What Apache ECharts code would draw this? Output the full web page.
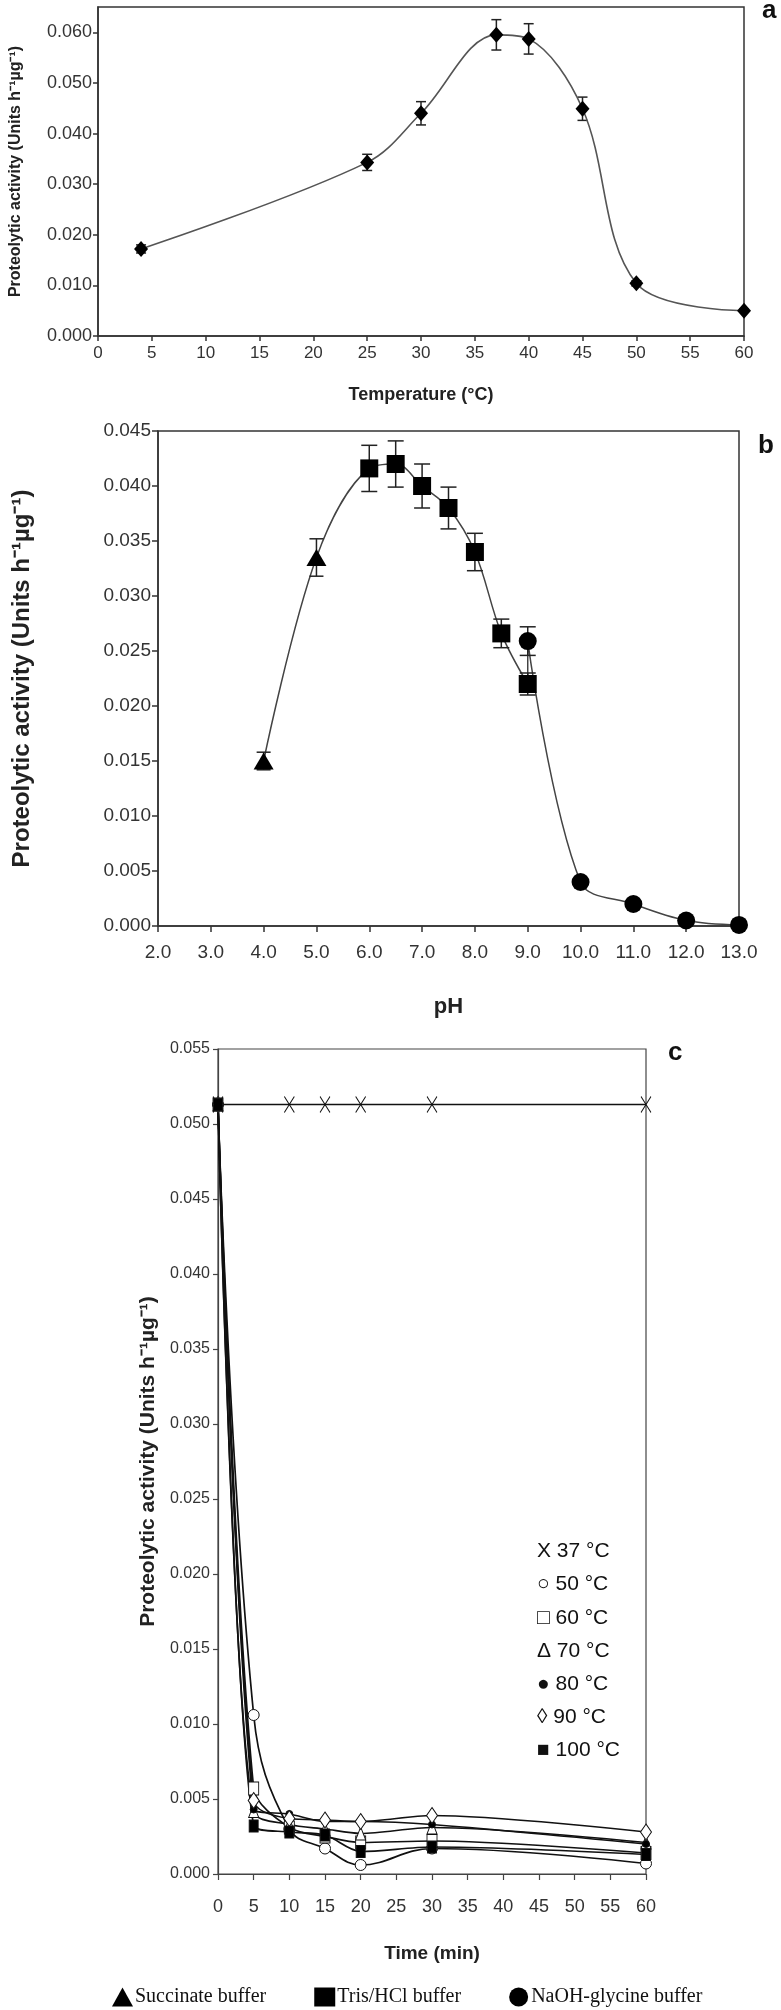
<!DOCTYPE html>
<html>
<head>
<meta charset="utf-8">
<script src="https://cdn.jsdelivr.net/npm/echarts@6/dist/echarts.min.js"></script>
<style>
html,body{margin:0;padding:0;background:#fff;}
#chart{width:781px;height:2010px;}
</style>
</head>
<body>
<div id="chart"></div>
<script>
// ---------- Panel a: temperature ----------
const tempX   = [4, 25, 30, 37, 40, 45, 50, 60];
const tempY   = [0.0172, 0.0343, 0.0440, 0.0595, 0.0587, 0.0449, 0.0104, 0.0050];
const tempErr = [0.0008, 0.0016, 0.0023, 0.0030, 0.0030, 0.0023, 0.0005, 0.0003];

// ---------- Panel b: pH ----------
const succX = [4, 5];
const succY = [0.0150, 0.0335];
const succErr = [0.0008, 0.0017];
const trisX = [6, 6.5, 7, 7.5, 8, 8.5, 9];
const trisY = [0.0416, 0.0420, 0.0400, 0.0380, 0.0340, 0.0266, 0.0220];
const trisErr = [0.0021, 0.0021, 0.0020, 0.0019, 0.0017, 0.0013, 0.0010];
const glyX = [9, 10, 11, 12, 13];
const glyY = [0.0259, 0.0040, 0.0020, 0.0005, 0.0001];
const glyErr = [0.0013, 0, 0, 0, 0];
const bufferNames = ['Succinate buffer', 'Tris/HCl buffer', 'NaOH-glycine buffer'];

// ---------- Panel c: thermal stability ----------
const timeX = [0, 5, 10, 15, 20, 30, 60];
const stab37  = [0.0513, null, 0.0513, 0.0513, 0.0513, 0.0513, 0.0513];
const stab50  = [0.0513, 0.0106, 0.0030, 0.0017, 0.0006, 0.0017, 0.0007];
const stab60  = [0.0513, 0.0057, 0.0031, 0.0025, 0.0021, 0.0022, 0.0014];
const stab70  = [0.0513, 0.0042, 0.0033, 0.0030, 0.0027, 0.0031, 0.0021];
const stab80  = [0.0513, 0.0043, 0.0040, 0.0035, 0.0035, 0.0033, 0.0020];
const stab90  = [0.0513, 0.0049, 0.0037, 0.0036, 0.0035, 0.0039, 0.0028];
const stab100 = [0.0513, 0.0032, 0.0028, 0.0026, 0.0015, 0.0018, 0.0013];
const stabLabels = ['X 37 °C', '○ 50 °C', '□ 60 °C', 'Δ 70 °C', '● 80 °C', '◊ 90 °C', '■ 100 °C'];

const yTitle = 'Proteolytic activity (Units h⁻¹µg⁻¹)';

const NARROW = '"Liberation Sans Narrow", "Arial Narrow", "Liberation Sans", Arial, sans-serif';
const SANS = '"Liberation Sans", Arial, sans-serif';
const SERIF = '"Liberation Serif", "Times New Roman", serif';

function pairs(xs, ys) {
  const out = [];
  xs.forEach((x, i) => { if (ys[i] !== null && ys[i] !== undefined) out.push([x, ys[i]]); });
  return out;
}

function errSeries(idx, xs, ys, es, cap, color) {
  return {
    type: 'custom', xAxisIndex: idx, yAxisIndex: idx, silent: true, z: 3,
    encode: { x: 0, y: 1 },
    data: xs.map((x, i) => [x, ys[i], es[i]]),
    renderItem: function (params, api) {
      const x = api.value(0), y = api.value(1), e = api.value(2);
      if (!e) return null;
      const hi = api.coord([x, y + e]);
      const lo = api.coord([x, y - e]);
      const st = { stroke: color, lineWidth: 1.5 };
      return {
        type: 'group',
        children: [
          { type: 'line', shape: { x1: hi[0], y1: hi[1], x2: lo[0], y2: lo[1] }, style: st },
          { type: 'line', shape: { x1: hi[0] - cap, y1: hi[1], x2: hi[0] + cap, y2: hi[1] }, style: st },
          { type: 'line', shape: { x1: lo[0] - cap, y1: lo[1], x2: lo[0] + cap, y2: lo[1] }, style: st }
        ]
      };
    }
  };
}

const chart = echarts.init(document.getElementById('chart'), null, { renderer: 'canvas' });

const curveB = pairs(succX, succY).concat(pairs(trisX, trisY), pairs(glyX, glyY));

function stabSeries(name, ys, symbol, size, fill, smooth) {
  return {
    name: name, type: 'line', xAxisIndex: 2, yAxisIndex: 2,
    data: pairs(timeX, ys), smooth: smooth,
    symbol: symbol, symbolSize: size, showAllSymbol: true,
    lineStyle: { color: '#111', width: 1.7 },
    itemStyle: { color: fill, borderColor: '#111', borderWidth: 1, opacity: 1 },
    z: 4
  };
}

const option = {
  animation: false,
  backgroundColor: '#fff',
  grid: [
    { left: 95, right: 37, top: 7, height: 329, show: true, borderColor: '#333', borderWidth: 1.5 },
    { left: 158, right: 42, top: 431, height: 495, show: true, borderColor: '#333', borderWidth: 1.5 },
    { left: 218, right: 135, top: 1049, height: 825, show: true, borderColor: '#444', borderWidth: 1.2 }
  ],
  xAxis: [
    {
      gridIndex: 0, type: 'value', min: 0, max: 60, interval: 5,
      name: 'Temperature (°C)', nameLocation: 'middle', nameGap: 50,
      nameTextStyle: { fontFamily: NARROW, fontWeight: 'bold', fontSize: 18, color: '#222' },
      axisLine: { lineStyle: { color: '#333', width: 1.5 } },
      axisTick: { inside: false, length: 5, lineStyle: { color: '#333', width: 1.5 } },
      axisLabel: { fontFamily: SANS, fontSize: 17, color: '#333', margin: 9 },
      splitLine: { show: false }
    },
    {
      gridIndex: 1, type: 'value', min: 2, max: 13, interval: 1,
      name: 'pH', nameLocation: 'middle', nameGap: 70,
      nameTextStyle: { fontFamily: SANS, fontWeight: 'bold', fontSize: 22, color: '#222' },
      axisLine: { lineStyle: { color: '#333', width: 1.5 } },
      axisTick: { length: 6, lineStyle: { color: '#333', width: 1.5 } },
      axisLabel: { fontFamily: SANS, fontSize: 19, color: '#333', margin: 17, formatter: v => v.toFixed(1) },
      splitLine: { show: false }
    },
    {
      gridIndex: 2, type: 'value', min: 0, max: 60, interval: 5,
      name: 'Time (min)', nameLocation: 'middle', nameGap: 70,
      nameTextStyle: { fontFamily: NARROW, fontWeight: 'bold', fontSize: 19, color: '#222' },
      axisLine: { lineStyle: { color: '#444', width: 1.2 } },
      axisTick: { length: 6, lineStyle: { color: '#444', width: 1.2 } },
      axisLabel: { fontFamily: NARROW, fontSize: 18, color: '#333', margin: 24 },
      splitLine: { show: false }
    }
  ],
  yAxis: [
    {
      gridIndex: 0, type: 'value', min: 0, max: 0.065, interval: 0.01,
      name: yTitle, nameLocation: 'middle', nameRotate: 90, nameGap: 74,
      nameTextStyle: { fontFamily: SANS, fontWeight: 'bold', fontSize: 16, color: '#222' },
      axisLine: { lineStyle: { color: '#333', width: 1.5 } },
      axisTick: { length: 5, lineStyle: { color: '#333', width: 1.5 } },
      axisLabel: { fontFamily: SANS, fontSize: 18, color: '#333', margin: 6, showMaxLabel: false, formatter: v => v.toFixed(3) },
      splitLine: { show: false }
    },
    {
      gridIndex: 1, type: 'value', min: 0, max: 0.045, interval: 0.005,
      name: yTitle, nameLocation: 'middle', nameRotate: 90, nameGap: 124,
      nameTextStyle: { fontFamily: SANS, fontWeight: 'bold', fontSize: 24, color: '#222' },
      axisLine: { lineStyle: { color: '#333', width: 1.5 } },
      axisTick: { length: 6, lineStyle: { color: '#333', width: 1.5 } },
      axisLabel: { fontFamily: SANS, fontSize: 19, color: '#333', margin: 7, formatter: v => v.toFixed(3) },
      splitLine: { show: false }
    },
    {
      gridIndex: 2, type: 'value', min: 0, max: 0.055, interval: 0.005,
      name: yTitle, nameLocation: 'middle', nameRotate: 90, nameGap: 50,
      nameTextStyle: { fontFamily: SANS, fontWeight: 'bold', fontSize: 21, color: '#222' },
      axisLine: { lineStyle: { color: '#444', width: 1.2 } },
      axisTick: { length: 5, lineStyle: { color: '#444', width: 1.2 } },
      axisLabel: { fontFamily: NARROW, fontSize: 16, color: '#333', margin: 8, formatter: v => v.toFixed(3) },
      splitLine: { show: false }
    }
  ],
  legend: {
    data: bufferNames.map(n => ({ name: n })),
    left: 107, top: 1982, itemGap: 48, itemWidth: 21, itemHeight: 19,
    selectedMode: false,
    textStyle: { fontFamily: SERIF, fontSize: 20, color: '#111', padding: [0, 0, 0, -3] }
  },
  graphic: [
    { type: 'text', left: 762, top: -2, style: { text: 'a', font: 'bold 26px ' + SANS, fill: '#111' } },
    { type: 'text', left: 758, top: 433, style: { text: 'b', font: 'bold 26px ' + SANS, fill: '#111' } },
    { type: 'text', left: 668, top: 1040, style: { text: 'c', font: 'bold 26px ' + SANS, fill: '#111' } },
    {
      type: 'group', left: 537, top: 1541,
      children: stabLabels.map((t, i) => ({
        type: 'text', x: 0, y: i * 33.2,
        style: { text: t, font: '21px ' + NARROW, fill: '#111' }
      }))
    }
  ],
  series: [
    // Panel a
    errSeries(0, tempX, tempY, tempErr, 5, '#222'),
    {
      name: 'Temperature', type: 'line', xAxisIndex: 0, yAxisIndex: 0,
      data: pairs(tempX, tempY), smooth: 0.35,
      symbol: 'diamond', symbolSize: [14, 16],
      lineStyle: { color: '#555', width: 1.6 },
      itemStyle: { color: '#000', opacity: 1 }, z: 4
    },
    // Panel b
    {
      name: 'pH curve', type: 'line', xAxisIndex: 1, yAxisIndex: 1,
      data: curveB, smooth: 0.35, symbol: 'none',
      lineStyle: { color: '#444', width: 1.5 }, z: 2
    },
    errSeries(1, succX, succY, succErr, 7, '#222'),
    errSeries(1, trisX, trisY, trisErr, 8, '#222'),
    errSeries(1, glyX, glyY, glyErr, 8, '#222'),
    {
      name: bufferNames[0], type: 'scatter', xAxisIndex: 1, yAxisIndex: 1,
      data: pairs(succX, succY), symbol: 'triangle', symbolSize: [20, 17],
      itemStyle: { color: '#000', opacity: 1 }, z: 5
    },
    {
      name: bufferNames[1], type: 'scatter', xAxisIndex: 1, yAxisIndex: 1,
      data: pairs(trisX, trisY), symbol: 'rect', symbolSize: 18,
      itemStyle: { color: '#000', opacity: 1 }, z: 5
    },
    {
      name: bufferNames[2], type: 'scatter', xAxisIndex: 1, yAxisIndex: 1,
      data: pairs(glyX, glyY), symbol: 'circle', symbolSize: 18,
      itemStyle: { color: '#000', opacity: 1 }, z: 5
    },
    // Panel c
    stabSeries('37 °C', stab37, 'path://M0,0L10,16M10,0L0,16', [10, 16], 'none', false),
    stabSeries('50 °C', stab50, 'circle', 11, '#fff', 0.4),
    stabSeries('60 °C', stab60, 'rect', [10, 13], '#fff', 0.3),
    stabSeries('70 °C', stab70, 'triangle', [10, 13], '#fff', 0.3),
    stabSeries('80 °C', stab80, 'circle', 7, '#000', 0.3),
    stabSeries('90 °C', stab90, 'diamond', [11, 16], '#fff', 0.3),
    stabSeries('100 °C', stab100, 'rect', [9, 12], '#000', 0.3)
  ]
};

chart.setOption(option);
</script>
</body>
</html>
